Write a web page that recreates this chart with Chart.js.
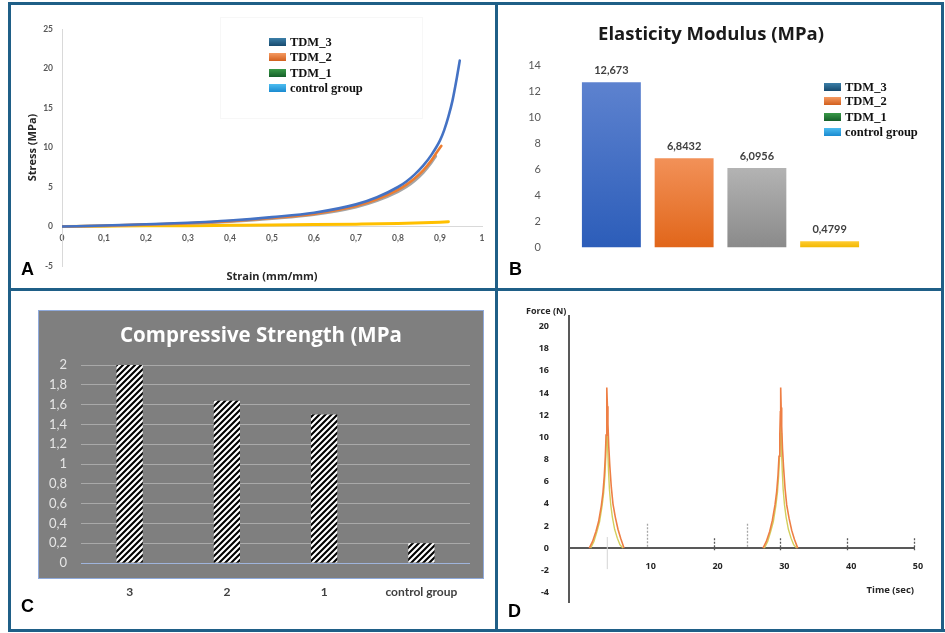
<!DOCTYPE html>
<html><head><meta charset="utf-8">
<script src="https://cdn.jsdelivr.net/npm/chart.js@4.4.1/dist/chart.umd.min.js"></script>
<style>
html,body{margin:0;padding:0;background:#fff;}
#page{position:relative;width:945px;height:633px;overflow:hidden;background:#fff;}
.fr{position:absolute;background:#1f5f87;}
canvas{position:absolute;}
.lg{position:absolute;font:bold 12.5px "Liberation Serif",serif;color:#111;height:16px;line-height:16px;white-space:nowrap;}
.lg i{display:inline-block;width:17px;height:8px;margin-right:4px;vertical-align:middle;position:relative;top:-1px;}
.pl{position:absolute;font:bold 18px "Liberation Sans",Arial,sans-serif;color:#000;line-height:18px;}
.lgbox{position:absolute;border:1px solid #f7f7f7;}
</style></head>
<body>
<div id="page">
  <canvas id="cA" width="484" height="283" style="left:11px;top:5px"></canvas>
  <canvas id="cB" width="444" height="283" style="left:498px;top:5px"></canvas>
  <canvas id="cC" width="500" height="338" style="left:11px;top:291px"></canvas>
  <canvas id="cD" width="444" height="337" style="left:498px;top:291px"></canvas>

  <div class="lgbox" style="left:220px;top:17px;width:201px;height:100px"></div>
  <div class="lg" style="left:269px;top:34px"><i style="background:linear-gradient(#3b7fa8,#174a6e)"></i>TDM_3</div>
  <div class="lg" style="left:269px;top:49px"><i style="background:linear-gradient(#f59a62,#d2601e)"></i>TDM_2</div>
  <div class="lg" style="left:269px;top:65px"><i style="background:linear-gradient(#3a9a48,#16602a)"></i>TDM_1</div>
  <div class="lg" style="left:269px;top:80px"><i style="background:linear-gradient(#4dbdf0,#1a8ad0)"></i>control group</div>

  <div class="lg" style="left:824px;top:79px"><i style="background:linear-gradient(#3b7fa8,#174a6e)"></i>TDM_3</div>
  <div class="lg" style="left:824px;top:93px"><i style="background:linear-gradient(#f59a62,#d2601e)"></i>TDM_2</div>
  <div class="lg" style="left:824px;top:109px"><i style="background:linear-gradient(#3a9a48,#16602a)"></i>TDM_1</div>
  <div class="lg" style="left:824px;top:124px"><i style="background:linear-gradient(#4dbdf0,#1a8ad0)"></i>control group</div>

  <div class="pl" style="left:21px;top:260px">A</div>
  <div class="pl" style="left:509px;top:260px">B</div>
  <div class="pl" style="left:21px;top:597px">C</div>
  <div class="pl" style="left:508px;top:602px">D</div>

  <div class="fr" style="left:8px;top:2px;width:936px;height:3px"></div>
  <div class="fr" style="left:8px;top:629px;width:937px;height:3px"></div>
  <div class="fr" style="left:8px;top:2px;width:3px;height:630px"></div>
  <div class="fr" style="left:941px;top:2px;width:3px;height:630px"></div>
  <div class="fr" style="left:495px;top:2px;width:3px;height:630px"></div>
  <div class="fr" style="left:8px;top:288px;width:936px;height:3px"></div>
</div>
<script>
// ---------- Panel A : stress-strain ----------
const strainTDM3 = [0, 0.1, 0.2, 0.3, 0.4, 0.5, 0.6, 0.7, 0.75, 0.8, 0.82, 0.84, 0.86, 0.88, 0.9, 0.91, 0.92, 0.93, 0.94, 0.947];
const stressTDM3 = [0, 0.12, 0.28, 0.47, 0.76, 1.19, 1.74, 2.8, 3.7, 5.0, 5.7, 6.6, 7.7, 9.1, 10.9, 12.2, 13.9, 16.0, 18.8, 21.0];
const strainTDM2 = [0, 0.1, 0.2, 0.3, 0.4, 0.5, 0.6, 0.7, 0.75, 0.8, 0.82, 0.84, 0.86, 0.88, 0.89, 0.903];
const stressTDM2 = [0, 0.1, 0.25, 0.42, 0.68, 1.08, 1.6, 2.6, 3.45, 4.65, 5.3, 6.1, 7.1, 8.4, 9.2, 10.2];
const strainTDM1 = [0, 0.1, 0.2, 0.3, 0.4, 0.5, 0.6, 0.7, 0.75, 0.8, 0.82, 0.84, 0.86, 0.88, 0.89];
const stressTDM1 = [0, 0.08, 0.22, 0.38, 0.62, 1.0, 1.5, 2.45, 3.25, 4.4, 5.0, 5.8, 6.8, 8.1, 8.9];
const strainControl = [0, 0.1, 0.2, 0.3, 0.4, 0.5, 0.6, 0.7, 0.8, 0.86, 0.92];
const stressControl = [0, 0.04, 0.08, 0.11, 0.15, 0.19, 0.24, 0.3, 0.38, 0.46, 0.6];

// ---------- Panel B : elasticity modulus ----------
const elasticCategories = ['TDM_3', 'TDM_2', 'TDM_1', 'control group'];
const elasticValues = [12.673, 6.8432, 6.0956, 0.4799];

// ---------- Panel C : compressive strength ----------
const compCategories = ['3', '2', '1', 'control group'];
const compValues = [2, 1.64, 1.5, 0.2];

// ---------- Panel D : force vs time ----------
const timeOrange = [1.4, 1.9, 2.4, 2.8, 3.2, 3.45, 3.65, 3.8, 3.92, 4.0, 4.05, 4.12, 4.2, 4.32, 4.48, 4.7, 4.95, 5.3, 5.7, 6.1, 6.6,
  17,
  27.4, 27.9, 28.4, 28.8, 29.2, 29.45, 29.65, 29.8, 29.92, 30.0, 30.05, 30.12, 30.2, 30.32, 30.48, 30.7, 30.95, 31.3, 31.7, 32.1, 32.6];
const forceOrange = [0, 0.6, 1.5, 2.4, 3.8, 5.0, 6.5, 8.2, 10.2, 12.2, 14.5, 12.8, 11.2, 9.2, 7.4, 5.5, 4.0, 2.8, 1.7, 0.9, 0,
  null,
  0, 0.6, 1.5, 2.5, 3.9, 5.1, 6.6, 8.3, 10.3, 12.3, 14.5, 12.7, 11.0, 9.0, 7.3, 5.4, 3.9, 2.7, 1.6, 0.8, 0];
const timeYellow = [1.6, 2.1, 2.55, 2.95, 3.32, 3.56, 3.74, 3.88, 3.98, 4.05, 4.1, 4.17, 4.28, 4.42, 4.62, 4.86, 5.2, 5.6, 6.0, 6.45,
  17,
  27.6, 28.1, 28.55, 28.95, 29.32, 29.56, 29.74, 29.88, 29.98, 30.05, 30.1, 30.17, 30.28, 30.42, 30.62, 30.86, 31.2, 31.6, 32.0, 32.45];
const forceYellow = [0, 0.6, 1.5, 2.4, 3.8, 5.0, 6.5, 8.2, 10.2, 12.0, 10.4, 8.8, 7.0, 5.3, 3.9, 2.8, 1.7, 0.9, 0.3, 0,
  null,
  0, 0.6, 1.5, 2.4, 3.8, 5.0, 6.5, 8.2, 10.2, 12.0, 10.4, 8.8, 7.0, 5.3, 3.9, 2.8, 1.7, 0.9, 0.3, 0];
const forceTicks = [-4, -2, 0, 2, 4, 6, 8, 10, 12, 14, 16, 18, 20];
const timeTicks = [10, 20, 30, 40, 50];
const markTime = [10, 20, 25, 30, 40, 50];
const markTop = [2.2, 0.9, 2.2, 0.9, 0.9, 0.9];
const markBottom = [0, -0.2, 0, -0.2, -0.2, -0.2];
const guideTime = [4.1];
const guideTop = [1.0];
const guideBottom = [-1.9];

// ---------- helpers ----------
Chart.defaults.font.family = 'Lato';
const zip = (xs, ys) => xs.map((x, i) => ({x: x, y: ys[i]}));
const fmtTick = v => String(Math.round(v * 10) / 10).replace('.', ',');
const noGrid = {display: false, drawTicks: false};
const spacer = w => ({position: 'right', display: true, ticks: {display: false}, grid: noGrid, border: {display: false}, afterFit: s => { s.width = w; }});

// ---------- Chart A ----------
const tickFontA = {family: 'Lato', size: 8.5, weight: 'bold'};
const titleFontA = {family: 'Open Sans', size: 11, weight: 'bold'};
new Chart(document.getElementById('cA'), {
  type: 'scatter',
  data: {datasets: [
    {label: 'TDM_3', data: zip(strainTDM3, stressTDM3), borderColor: '#4472c4', borderWidth: 2.6},
    {label: 'TDM_2', data: zip(strainTDM2, stressTDM2), borderColor: '#ed7d31', borderWidth: 2.6},
    {label: 'TDM_1', data: zip(strainTDM1, stressTDM1), borderColor: '#a5a5a5', borderWidth: 2.6},
    {label: 'control group', data: zip(strainControl, stressControl), borderColor: '#ffc000', borderWidth: 3}
  ].map(d => Object.assign(d, {showLine: true, pointRadius: 0, cubicInterpolationMode: 'monotone', borderCapStyle: 'round'}))},
  options: {
    responsive: false, animation: false, events: [],
    layout: {padding: {left: 0, right: 13, top: 24, bottom: 0}},
    plugins: {legend: {display: false}, tooltip: {enabled: false}},
    scales: {
      x: {type: 'linear', position: {y: 0}, min: 0, max: 1,
          ticks: {stepSize: 0.1, padding: 7, font: tickFontA, color: '#595959', callback: fmtTick, maxRotation: 0, autoSkip: false},
          grid: noGrid, border: {display: true, color: '#d9d9d9', width: 1}},
      x2: {type: 'linear', position: 'bottom', min: 0, max: 1,
          ticks: {display: false}, grid: noGrid, border: {display: false},
          title: {display: true, text: 'Strain (mm/mm)', font: titleFontA, color: '#262626', padding: {top: 0, bottom: 4.4}},
          afterFit: s => { s.height = 22; }},
      y: {type: 'linear', min: -5, max: 25,
          ticks: {stepSize: 5, padding: 9, font: tickFontA, color: '#595959'},
          grid: noGrid, border: {display: true, color: '#d9d9d9', width: 1},
          title: {display: true, text: 'Stress (MPa)', font: titleFontA, color: '#262626', padding: {top: 15.4, bottom: 0}},
          afterFit: s => { s.width = 51; }}
    }
  }
});

// ---------- Chart B ----------
const elasticShades = [['#5d82cf', '#2c5db9'], ['#f29158', '#e1661a'], ['#b3b3b3', '#8a8a8a'], ['#ffcc33', '#f2b800']];
function elasticFill(c) {
  const ch = c.chart, a = ch.chartArea, s = elasticShades[c.dataIndex];
  if (!a || !ch.scales.y) return s[1];
  const top = ch.scales.y.getPixelForValue(c.raw);
  const g = ch.ctx.createLinearGradient(0, top, 0, a.bottom);
  g.addColorStop(0, s[0]); g.addColorStop(1, s[1]);
  return g;
}
const barValueLabels = {
  id: 'barValueLabels',
  afterDatasetsDraw(ch) {
    const ctx = ch.ctx, meta = ch.getDatasetMeta(0);
    ctx.save();
    ctx.font = 'bold 11px Lato'; ctx.fillStyle = '#404040';
    ctx.textAlign = 'center'; ctx.textBaseline = 'middle';
    meta.data.forEach((el, i) => ctx.fillText(String(elasticValues[i]).replace('.', ','), el.x, el.y - 11.5));
    ctx.restore();
  }
};
new Chart(document.getElementById('cB'), {
  type: 'bar',
  data: {labels: elasticCategories, datasets: [{data: elasticValues, backgroundColor: elasticFill, borderWidth: 0, categoryPercentage: 1, barPercentage: 0.81}]},
  options: {
    responsive: false, animation: false, events: [],
    layout: {padding: {left: 0, right: 18, top: 0, bottom: 31}},
    plugins: {legend: {display: false}, tooltip: {enabled: false},
      title: {display: true, text: 'Elasticity Modulus (MPa)', font: {family: 'Open Sans', size: 18.5, weight: 'bold'}, color: '#1a1a1a', padding: {top: 18.4, bottom: 19.4}}},
    scales: {
      x: {display: false},
      y: {min: 0, max: 14, ticks: {stepSize: 2, padding: 34, color: '#595959', font: {family: 'Lato', size: 11}},
          grid: noGrid, border: {display: false}, afterFit: s => { s.width = 77; }},
      yPad: spacer(58)
    }
  },
  plugins: [barValueLabels]
});

// ---------- Chart C ----------
const hatchCanvas = document.createElement('canvas');
hatchCanvas.width = 6; hatchCanvas.height = 6;
(function () {
  const p = hatchCanvas.getContext('2d');
  p.fillStyle = '#ffffff'; p.fillRect(0, 0, 6, 6);
  p.strokeStyle = '#000000'; p.lineWidth = 2.1;
  p.beginPath();
  p.moveTo(-1, 7); p.lineTo(7, -1);
  p.moveTo(-4, 4); p.lineTo(4, -4);
  p.moveTo(2, 10); p.lineTo(10, 2);
  p.stroke();
})();
const plotBg = {
  id: 'plotBg',
  beforeDraw(ch) {
    const a = ch.chartArea, ctx = ch.ctx;
    ctx.save();
    ctx.fillStyle = '#7f7f7f';
    ctx.fillRect(a.left - 42, a.top - 54, a.right - a.left + 55, a.bottom - a.top + 69);
    ctx.strokeStyle = '#8faadc'; ctx.lineWidth = 1;
    ctx.strokeRect(a.left - 42.5, a.top - 54.5, a.right - a.left + 56, a.bottom - a.top + 70);
    ctx.restore();
  }
};
const ctxC = document.getElementById('cC').getContext('2d');
new Chart(ctxC, {
  type: 'bar',
  data: {labels: compCategories, datasets: [{data: compValues, backgroundColor: ctxC.createPattern(hatchCanvas, 'repeat'), borderWidth: 0, categoryPercentage: 1, barPercentage: 0.27}]},
  options: {
    responsive: false, animation: false, events: [],
    layout: {padding: {left: 0, right: 0, top: 0, bottom: 0}},
    plugins: {legend: {display: false}, tooltip: {enabled: false},
      title: {display: true, text: 'Compressive Strength (MPa', font: {family: 'Open Sans', size: 20.5, weight: 'bold'}, color: '#ffffff', padding: {top: 32.7, bottom: 16.7}}},
    scales: {
      x: {ticks: {padding: 22, color: '#404040', font: {family: 'Lato', size: 12, weight: 'bold'}},
          grid: noGrid, border: {display: false}, afterFit: s => { s.height = 66; }},
      y: {min: 0, max: 2, ticks: {stepSize: 0.2, padding: 14, color: '#e6e6e6', font: {family: 'Lato', size: 13}, callback: fmtTick},
          grid: {color: c => c.index === 0 ? '#9fb4dc' : '#a9a9a9', drawTicks: false, lineWidth: 1},
          border: {display: false}, afterFit: s => { s.width = 70; }},
      yPad: spacer(41)
    }
  },
  plugins: [plotBg]
});

// ---------- Chart D ----------
const tickFontD = {family: 'Open Sans', size: 9, weight: 'bold'};
const markLines = {
  id: 'markLines',
  beforeDatasetsDraw(ch) {
    const ctx = ch.ctx, x = ch.scales.x, y = ch.scales.y;
    ctx.save();
    ctx.strokeStyle = '#d4d4d4'; ctx.lineWidth = 1;
    guideTime.forEach((t, i) => {
      ctx.beginPath();
      ctx.moveTo(x.getPixelForValue(t), y.getPixelForValue(guideTop[i]));
      ctx.lineTo(x.getPixelForValue(t), y.getPixelForValue(guideBottom[i]));
      ctx.stroke();
    });
    ctx.setLineDash([2, 1.5]); ctx.lineWidth = 1.3;
    markTime.forEach((t, i) => {
      ctx.strokeStyle = markTop[i] > 1.5 ? '#a6a6a6' : '#595959';
      const px = Math.round(x.getPixelForValue(t)) + 0.5;
      ctx.beginPath();
      ctx.moveTo(px, y.getPixelForValue(markTop[i]));
      ctx.lineTo(px, y.getPixelForValue(markBottom[i]));
      ctx.stroke();
    });
    ctx.restore();
  }
};
new Chart(document.getElementById('cD'), {
  type: 'scatter',
  data: {datasets: [
    {label: 'force 1', data: zip(timeOrange, forceOrange), borderColor: '#ee7f45', borderWidth: 1.6},
    {label: 'force 2', data: zip(timeYellow, forceYellow), borderColor: '#d3cf5c', borderWidth: 1.4}
  ].map(d => Object.assign(d, {showLine: true, pointRadius: 0, tension: 0, spanGaps: false}))},
  options: {
    responsive: false, animation: false, events: [],
    layout: {padding: {left: 28, right: 28, top: 0, bottom: 7}},
    plugins: {legend: {display: false}, tooltip: {enabled: false},
      title: {display: true, text: 'Force (N)', align: 'start', font: tickFontD, color: '#262626', padding: {top: 9.6, bottom: 0}}},
    scales: {
      x: {type: 'linear', position: {y: 0}, min: -1.63, max: 50,
          afterBuildTicks: s => { s.ticks = timeTicks.map(v => ({value: v})); },
          ticks: {padding: 13, labelOffset: 4, font: tickFontD, color: '#262626', maxRotation: 0, autoSkip: false},
          grid: noGrid, border: {display: true, color: '#595959', width: 2},
          title: {display: true, text: 'Time (sec)', align: 'end', font: {family: 'Open Sans', size: 9.5, weight: 'bold'}, color: '#262626', padding: {top: 0, bottom: 0}}},
      y: {type: 'linear', min: -4.92, max: 20.92,
          afterBuildTicks: s => { s.ticks = forceTicks.map(v => ({value: v})); },
          ticks: {padding: 20, font: tickFontD, color: '#262626', autoSkip: false},
          grid: noGrid, border: {display: true, color: '#595959', width: 2},
          afterFit: s => { s.width = 43; }}
    }
  },
  plugins: [markLines]
});
</script>
</body></html>
